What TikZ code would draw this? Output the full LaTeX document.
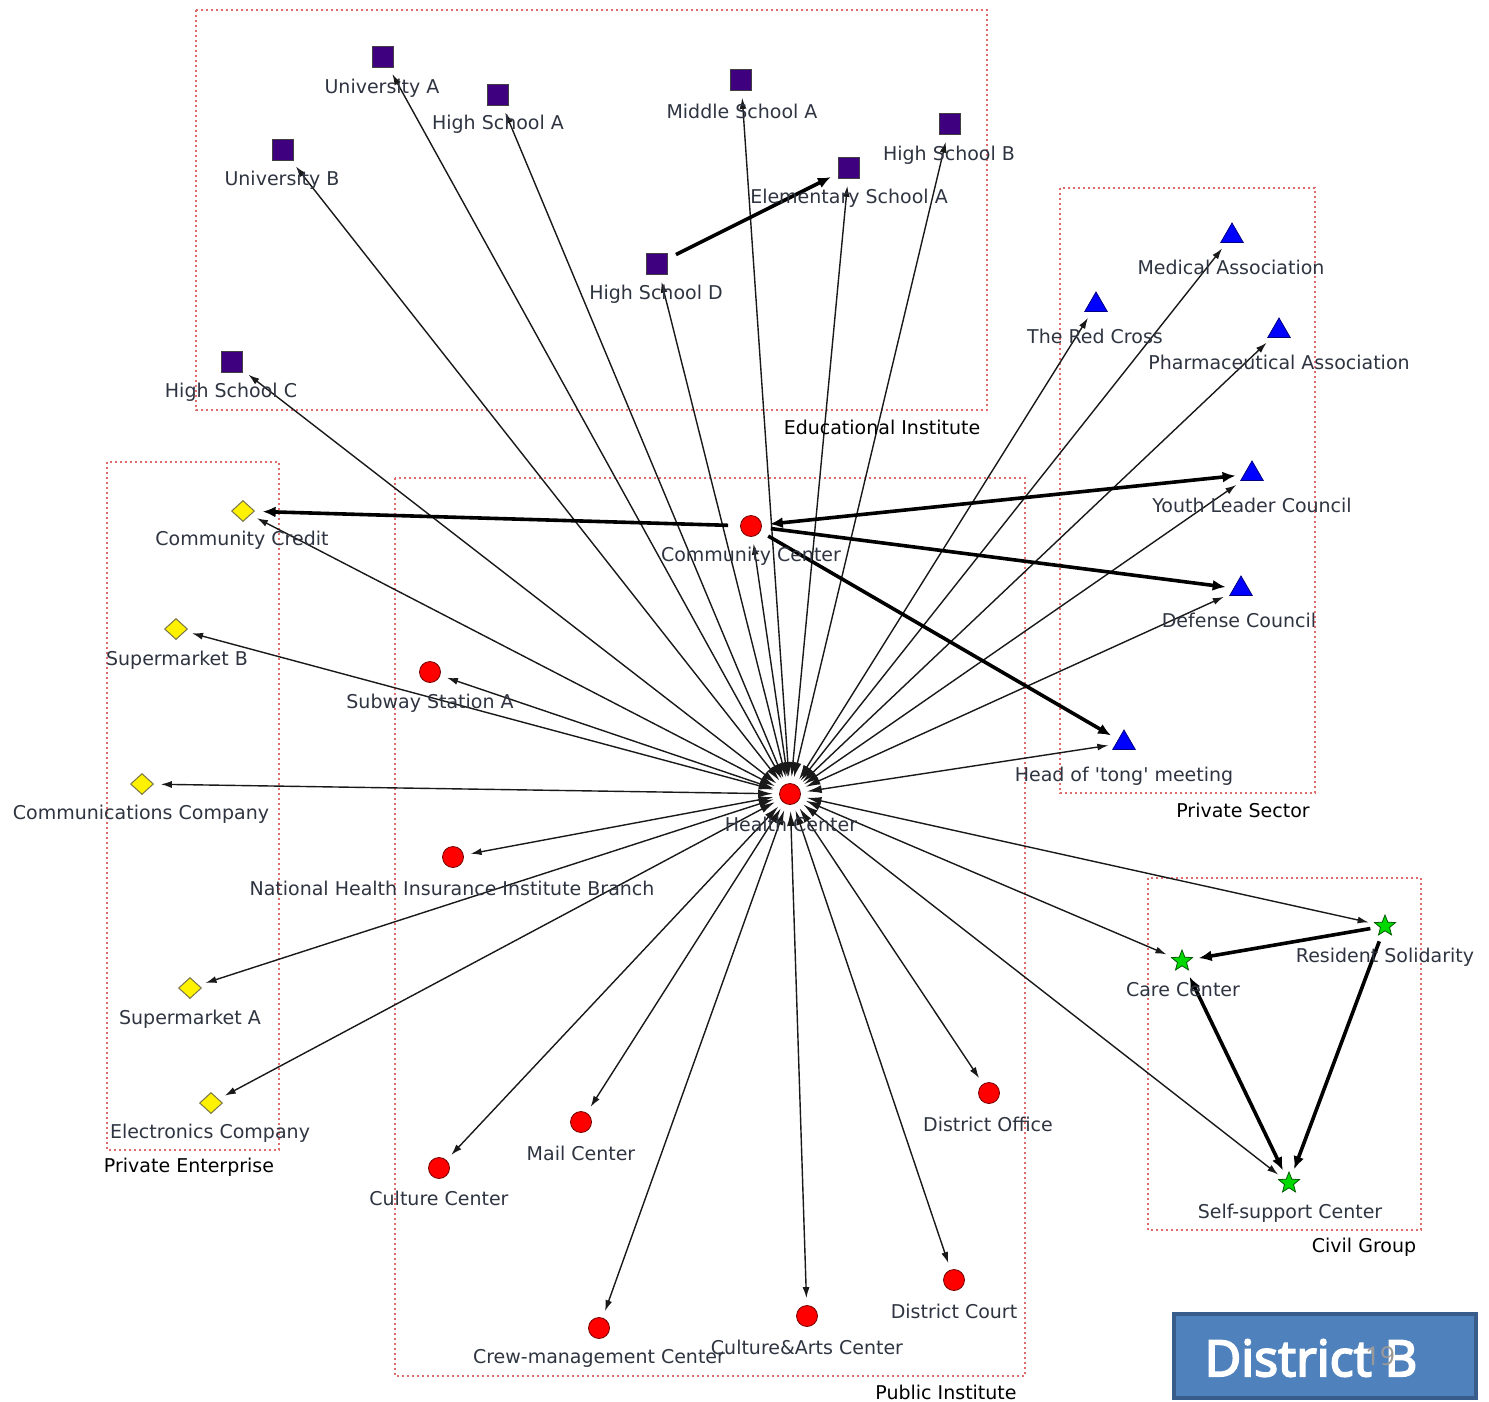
\documentclass[tikz,border=0pt]{standalone}
\usepackage{fontspec}
\setmainfont{DejaVu Sans}
\newfontfamily\dbfont[AutoFakeBold=3.5]{Noto Sans}
\usetikzlibrary{shapes.geometric,arrows.meta}
\definecolor{sqpurple}{HTML}{3F0080}
\definecolor{boxred}{HTML}{E06A6A}
\definecolor{dbfill}{HTML}{4F81BD}
\definecolor{dbdraw}{HTML}{385D8A}
\definecolor{lblc}{HTML}{2E3440}
\begin{document}
\begin{tikzpicture}[x=1pt,y=-1pt,
  sq/.style={rectangle,fill=sqpurple,draw=black!75,line width=0.8pt,minimum size=21pt,inner sep=0pt},
  tri/.style={regular polygon,regular polygon sides=3,fill=blue,draw=blue!50!black,line width=0.8pt,minimum size=26pt,inner sep=0pt},
  dia/.style={diamond,fill=yellow,draw=black!60!yellow,line width=1pt,minimum width=23pt,minimum height=21pt,inner sep=0pt},
  circ/.style={circle,fill=red,draw=red!45!black,line width=0.8pt,minimum size=21pt,inner sep=0pt},
  stR/.style={star,star points=5,star point ratio=2.3,fill=green!85!black,draw=green!35!black,line width=0.8pt,minimum size=22pt,inner sep=0pt},
  lbl/.style={text=lblc,font=\fontsize{19}{22}\selectfont,inner sep=0pt},
  grp/.style={draw=boxred,line width=2pt,dash pattern=on 2pt off 3pt},
  hcedge/.style={line width=1.4pt,draw=black!90,{Latex[length=15pt,width=8pt]}-{Latex[length=11pt,width=7pt]},shorten <=6pt,shorten >=7pt},
  thk/.style={line width=3.6pt,-{Latex[length=13pt,width=11pt]},shorten <=9pt,shorten >=8pt},
  thkb/.style={line width=3.6pt,{Latex[length=13pt,width=11pt]}-{Latex[length=13pt,width=11pt]},shorten <=9pt,shorten >=8pt}]
\useasboundingbox (0,0) rectangle (1489,1401);
\fill[white] (0,0) rectangle (1489,1401);
% group boxes
\draw[grp] (196,10) rectangle (987,410);
\draw[grp] (1060,188) rectangle (1315,793);
\draw[grp] (107,462) rectangle (279,1150);
\draw[grp] (395,478) rectangle (1025,1376);
\draw[grp] (1148,878) rectangle (1421,1230);
% nodes: educational
\node[sq] (uA) at (383,57) {};
\node[sq] (hsA) at (498,95) {};
\node[sq] (uB) at (283,150) {};
\node[sq] (msA) at (741,80) {};
\node[sq] (hsB) at (950,124) {};
\node[sq] (esA) at (849,168) {};
\node[sq] (hsD) at (657,264) {};
\node[sq] (hsC) at (232,362) {};
% private sector
\node[tri] (med) at (1232,236) {};
\node[tri] (rc) at (1096,305) {};
\node[tri] (pha) at (1279,331) {};
\node[tri] (ylc) at (1252,474) {};
\node[tri] (dc) at (1241,589) {};
\node[tri] (tong) at (1124,743) {};
% private enterprise
\node[dia] (ccr) at (243,511) {};
\node[dia] (smB) at (176,629) {};
\node[dia] (comm) at (142,784) {};
\node[dia] (smA) at (190,988) {};
\node[dia] (elec) at (211,1103) {};
% public institute
\node[circ] (cc) at (751,526) {};
\node[circ] (ssA) at (430,672) {};
\node[circ] (hc) at (790,794) {};
\node[circ] (nhi) at (453,857) {};
\node[circ] (mail) at (581,1122) {};
\node[circ] (cul) at (439,1168) {};
\node[circ] (doff) at (989,1093) {};
\node[circ] (court) at (954,1280) {};
\node[circ] (arts) at (807,1316) {};
\node[circ] (crew) at (599,1328) {};
% civil group
\node[stR] (rs) at (1385,926) {};
\node[stR] (care) at (1182,961) {};
\node[stR] (self) at (1289,1183) {};
% edges from Health Center
\foreach \t in {uA,hsA,uB,msA,hsB,esA,hsD,hsC,cc,ccr,smB,ssA,comm,nhi,smA,elec,cul,mail,crew,arts,court,doff,self,care,rs,tong,dc,ylc,pha,med,rc}
  \draw[hcedge] (hc) -- (\t);
% thick edges
\draw[thk] (hsD) -- (esA);
\draw[thk,shorten <=12pt] (cc) -- (ccr);
\draw[thkb,shorten <=8pt] (cc) -- (ylc);
\draw[thk] (cc) -- (dc);
\draw[thk] (cc) -- (tong);
\draw[thk] (rs) -- (care);
\draw[thkb] (care) -- (self);
\draw[thk] (rs) -- (self);
% labels
\node[lbl] (uA-l) at (382,88) {University A};
\node[lbl] (hsA-l) at (498,124) {High School A};
\node[lbl] (uB-l) at (282,180) {University B};
\node[lbl] (msA-l) at (742,111) {Middle School A};
\node[lbl] (hsB-l) at (949,155) {High School B};
\node[lbl] (esA-l) at (849,198) {Elementary School A};
\node[lbl] (hsD-l) at (656,294) {High School D};
\node[lbl] (hsC-l) at (231,392) {High School C};
\node[lbl] (med-l) at (1231,267) {Medical Association};
\node[lbl] (rc-l) at (1095,336) {The Red Cross};
\node[lbl] (pha-l) at (1279,362) {Pharmaceutical Association};
\node[lbl] (ylc-l) at (1252,505) {Youth Leader Council};
\node[lbl] (dc-l) at (1239,620) {Defense Council};
\node[lbl] (tong-l) at (1124,776) {Head of \textquotesingle tong\textquotesingle\ meeting};
\node[lbl] (ccr-l) at (242,540) {Community Credit};
\node[lbl] (smB-l) at (177,660) {Supermarket B};
\node[lbl] (comm-l) at (141,814) {Communications Company};
\node[lbl] (smA-l) at (190,1019) {Supermarket A};
\node[lbl] (elec-l) at (210,1133) {Electronics Company};
\node[lbl] (cc-l) at (751,556) {Community Center};
\node[lbl] (ssA-l) at (430,703) {Subway Station A};
\node[lbl] (hc-l) at (791,824) {Health Center};
\node[lbl] (nhi-l) at (452,888) {National Health Insurance Institute Branch};
\node[lbl] (mail-l) at (581,1153) {Mail Center};
\node[lbl] (cul-l) at (439,1198) {Culture Center};
\node[lbl] (doff-l) at (988,1124) {District Office};
\node[lbl] (court-l) at (954,1311) {District Court};
\node[lbl] (arts-l) at (807,1347) {Culture\&Arts Center};
\node[lbl] (crew-l) at (599,1358) {Crew-management Center};
\node[lbl] (rs-l) at (1385,957) {Resident Solidarity};
\node[lbl] (care-l) at (1183,990) {Care Center};
\node[lbl] (self-l) at (1290,1213) {Self-support Center};
% group labels
\node[lbl,text=black] (g1) at (882,427) {Educational Institute};
\node[lbl,text=black] (g2) at (1243,810) {Private Sector};
\node[lbl,text=black] (g3) at (189,1167) {Private Enterprise};
\node[lbl,text=black] (g4) at (946,1392) {Public Institute};
\node[lbl,text=black] (g5) at (1364,1247) {Civil Group};
% District B box
\node[draw=dbdraw,fill=dbfill,line width=4pt,minimum width=302pt,minimum height=84pt,inner sep=0pt] (db) at (1325,1356) {};
\node[text=white,font=\dbfont\bfseries\fontsize{50}{58}\selectfont,inner sep=0pt] (dbt) at (1311,1358) {District B};
\node[text=black!40,font=\dbfont\fontsize{26}{30}\selectfont,inner sep=0pt] (pg) at (1380,1356) {19};
\end{tikzpicture}
\end{document}
